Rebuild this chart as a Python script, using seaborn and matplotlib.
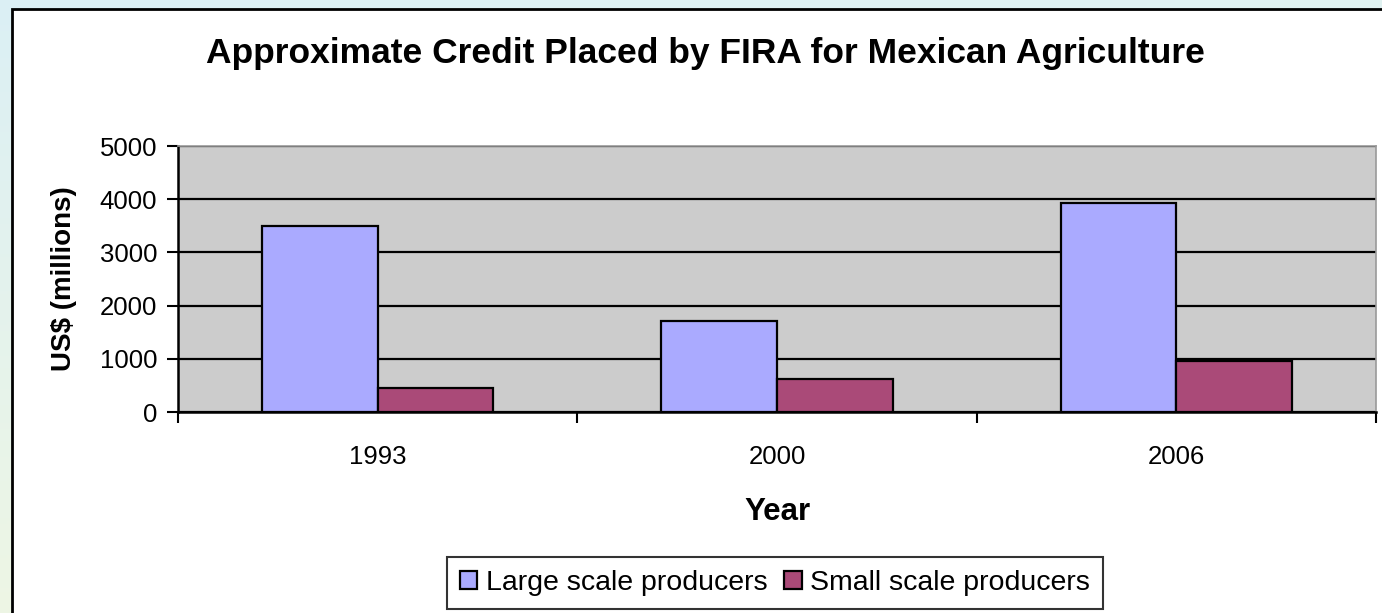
import numpy as np
import pandas as pd
import matplotlib
matplotlib.use("Agg")
import matplotlib.pyplot as plt
import seaborn as sns
from matplotlib.patches import Rectangle

years = ["1993", "2000", "2006"]
large_scale = [3500, 1710, 3920]
small_scale = [450, 620, 950]
series_names = ["Large scale producers", "Small scale producers"]
colors = ["#AAAAFF", "#AA4A78"]

df = pd.DataFrame({
    "Year": years * 2,
    "Value": large_scale + small_scale,
    "Series": [series_names[0]] * 3 + [series_names[1]] * 3,
})

sns.set_theme(style="white")
plt.rcParams['font.family'] = ['Liberation Sans', 'DejaVu Sans']
plt.rcParams['text.color'] = 'black'
plt.rcParams['axes.labelcolor'] = 'black'
plt.rcParams['xtick.color'] = 'black'
plt.rcParams['ytick.color'] = 'black'

W, H = 1382, 613
fig = plt.figure(figsize=(W / 100, H / 100), dpi=100)

# slide background gradient
bg = fig.add_axes([0, 0, 1, 1], zorder=-10)
yy, xx = np.mgrid[0:1:200j, 0:1:200j]
t = np.clip(yy * 0.8 + xx * 0.2, 0, 1)
c1 = np.array([0.86, 0.94, 0.96])
c2 = np.array([0.95, 0.97, 0.88])
img = c1[None, None, :] * (1 - t[..., None]) + c2[None, None, :] * t[..., None]
bg.imshow(img, aspect="auto", extent=[0, 1, 0, 1], origin="upper")
bg.set_axis_off()
# white chart frame
bg.add_patch(Rectangle((12 / W, -0.05), 1.1, 1 - 9 / H + 0.05, transform=bg.transAxes,
                       facecolor="white", edgecolor="black", lw=2, zorder=2))

ax = fig.add_axes([178 / W, 1 - 412 / H, (1376 - 178) / W, (412 - 146) / H])
sns.barplot(data=df, x="Year", y="Value", hue="Series", palette=colors,
            width=0.58, ax=ax, edgecolor="black", linewidth=1.6, saturation=1,
            legend=True, zorder=3)
ax.set_facecolor("#CCCCCC")
ax.set_ylim(0, 5000)
ax.set_xlim(-0.5, 2.5)
ax.set_yticks([0, 1000, 2000, 3000, 4000, 5000])
ax.yaxis.grid(True, color="black", lw=1.6, zorder=1)
ax.set_axisbelow(True)
ax.tick_params(axis="y", which="major", direction="out", length=8, width=1.5,
               color="black", labelsize=18.5, pad=7, left=True)
ax.tick_params(axis="x", which="major", length=0, labelsize=18.5, pad=24)
ax.set_xticks([-0.5, 0.5, 1.5, 2.5], minor=True)
ax.tick_params(axis="x", which="minor", direction="out", length=8, width=1.5,
               color="black", bottom=True)
for s in ["left", "bottom"]:
    ax.spines[s].set_color("black")
    ax.spines[s].set_linewidth(1.8)
for s in ["top", "right"]:
    ax.spines[s].set_color("#999999")
    ax.spines[s].set_linewidth(1.2)

ax.set_xlabel("Year", fontsize=22.5, fontweight="bold", labelpad=20)
ax.set_ylabel("US$ (millions)", fontsize=20, fontweight="bold", labelpad=16)

fig.text(705 / W, 1 - 53 / H, "Approximate Credit Placed by FIRA for Mexican Agriculture",
         ha="center", va="center", fontsize=25.5, fontweight="bold")

handles, labels = ax.get_legend_handles_labels()
ax.get_legend().remove()
leg = fig.legend(handles, labels, loc="center", bbox_to_anchor=(775 / W, 1 - 583 / H),
                 ncol=2, fontsize=20.5, frameon=True, fancybox=False, edgecolor="black",
                 handlelength=0.6, handleheight=0.6, handletextpad=0.3, columnspacing=0.6,
                 borderpad=0.45)
leg.get_frame().set_linewidth(1.5)

fig.savefig("out.png", dpi=100)
